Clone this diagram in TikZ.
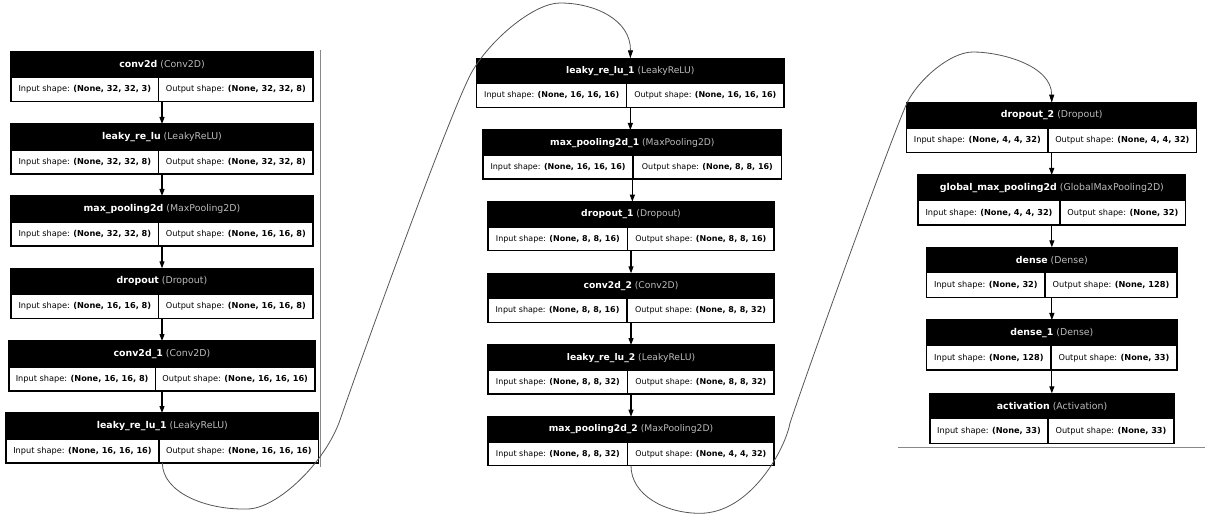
\documentclass[tikz,border=0pt]{standalone}
\usepackage{fontspec}
\setmainfont{DejaVu Sans}
\usetikzlibrary{arrows.meta}
\definecolor{typegray}{HTML}{BBBBBB}
\definecolor{curvegray}{HTML}{555555}
\definecolor{rulegray}{HTML}{888888}
\def\HF{9.4}\def\CF{8.2}\def\HH{26}\def\RH{24}
\tikzset{
  hdr/.style={draw=black, fill=black, line width=1.3pt, inner sep=0pt, outer sep=0pt,
    minimum height=\HH, text=white, font=\fontsize{\HF}{\HF}\selectfont},
  cell/.style={draw=black, fill=white, line width=1.3pt, inner sep=0pt, outer sep=0pt,
    minimum height=\RH, text=black, font=\fontsize{\CF}{\CF}\selectfont},
  arr/.style={line width=1.1pt, -{Triangle[length=7pt,width=5pt]}},
  curv/.style={draw=curvegray, line width=0.8pt, -{Triangle[length=8pt,width=5pt,black]}},
  rule/.style={draw=rulegray, line width=0.8pt}
}
% #1 name, #2 left, #3 right, #4 top, #5 divider, #6 title, #7 type, #8 in, #9 out
\newcommand{\kerlayer}[9]{%
  \node[hdr, minimum width={#3-#2}, anchor=north west] (#1) at (#2,#4)
    {\textbf{#6} {\color{typegray}(#7)}};
  \node[cell, minimum width={#5-#2}, anchor=north west] (#1i) at (#1.south west)
    {Input shape: \textbf{#8}};
  \node[cell, minimum width={#3-#5}, anchor=north east] (#1o) at (#1.south east)
    {Output shape: \textbf{#9}};
}
\newcommand{\kerlink}[2]{%
  \draw[arr] (#1i.south -| #1.south) -- (#1.south |- #2.north);
}
\begin{document}
\begin{tikzpicture}[x=1pt, y=-1pt]
\useasboundingbox (0,0) rectangle (1209,526);

% separators
\coordinate (v1) at (320.5,50);
\coordinate (v2) at (320.5,467);
\draw[rule] (v1) -- (v2);
\coordinate (h1) at (898,447.3);
\coordinate (h2) at (1205,447.3);
\draw[rule] (h1) -- (h2);

% column 1
\kerlayer{A1}{11}{313}{51.5}{158.7}{conv2d}{Conv2D}{(None, 32, 32, 3)}{(None, 32, 32, 8)}
\kerlayer{A2}{11}{313}{124}{158.7}{leaky\_re\_lu}{LeakyReLU}{(None, 32, 32, 8)}{(None, 32, 32, 8)}
\kerlayer{A3}{11}{313}{196}{158.7}{max\_pooling2d}{MaxPooling2D}{(None, 32, 32, 8)}{(None, 16, 16, 8)}
\kerlayer{A4}{11}{313}{268.3}{158.7}{dropout}{Dropout}{(None, 16, 16, 8)}{(None, 16, 16, 8)}
\kerlayer{A5}{9}{315}{341}{155.3}{conv2d\_1}{Conv2D}{(None, 16, 16, 8)}{(None, 16, 16, 16)}
\kerlayer{A6}{6}{318.7}{413}{159}{leaky\_re\_lu\_1}{LeakyReLU}{(None, 16, 16, 16)}{(None, 16, 16, 16)}
\kerlink{A1}{A2}\kerlink{A2}{A3}\kerlink{A3}{A4}\kerlink{A4}{A5}\kerlink{A5}{A6}

% column 2
\def\HF{9.2}\def\CF{8.0}\def\HH{25.5}\def\RH{23.5}
\kerlayer{B1}{476.7}{784}{58.3}{626.7}{leaky\_re\_lu\_1}{LeakyReLU}{(None, 16, 16, 16)}{(None, 16, 16, 16)}
\kerlayer{B2}{483}{781.7}{130}{633}{max\_pooling2d\_1}{MaxPooling2D}{(None, 16, 16, 16)}{(None, 8, 8, 16)}
\kerlayer{B3}{488}{774}{201.7}{627.7}{dropout\_1}{Dropout}{(None, 8, 8, 16)}{(None, 8, 8, 16)}
\kerlayer{B4}{488}{774}{273.3}{627}{conv2d\_2}{Conv2D}{(None, 8, 8, 16)}{(None, 8, 8, 32)}
\kerlayer{B5}{488}{774}{345}{627.7}{leaky\_re\_lu\_2}{LeakyReLU}{(None, 8, 8, 32)}{(None, 8, 8, 32)}
\kerlayer{B6}{488}{774}{416.7}{627.7}{max\_pooling2d\_2}{MaxPooling2D}{(None, 8, 8, 32)}{(None, 4, 4, 32)}
\kerlink{B1}{B2}\kerlink{B2}{B3}\kerlink{B3}{B4}\kerlink{B4}{B5}\kerlink{B5}{B6}

% column 3
\def\HF{9.4}\def\CF{8.2}\def\HH{25.5}\def\RH{24.5}
\kerlayer{C1}{906.7}{1196.7}{102.7}{1048}{dropout\_2}{Dropout}{(None, 4, 4, 32)}{(None, 4, 4, 32)}
\kerlayer{C2}{918}{1185.7}{175}{1060}{global\_max\_pooling2d}{GlobalMaxPooling2D}{(None, 4, 4, 32)}{(None, 32)}
\kerlayer{C3}{926.7}{1177}{247.3}{1045}{dense}{Dense}{(None, 32)}{(None, 128)}
\kerlayer{C4}{926.7}{1177}{320}{1051}{dense\_1}{Dense}{(None, 128)}{(None, 33)}
\kerlayer{C5}{930}{1174}{393.3}{1048}{activation}{Activation}{(None, 33)}{(None, 33)}
\kerlink{C1}{C2}\kerlink{C2}{C3}\kerlink{C3}{C4}\kerlink{C4}{C5}

% long connectors between columns
\draw[curv] (A6i.south -| A6.south)
  .. controls (162.4,492) and (205,510) .. (247,509)
  .. controls (277,509) and (325,463) .. (340,420)
  .. controls (360,362) and (453,103) .. (473,70)
  .. controls (493,37) and (535,3) .. (560,3)
  .. controls (595,3) and (630.9,20) .. (B1.north);
\draw[curv] (B6i.south -| B6.south)
  .. controls (631,495) and (665,513.3) .. (700,513.3)
  .. controls (750,513.3) and (785,450) .. (790,423)
  .. controls (815,349) and (892,136) .. (907,103)
  .. controls (918,80) and (950,52) .. (973,52)
  .. controls (1000,52) and (1051.7,65) .. (C1.north);
\end{tikzpicture}
\end{document}
